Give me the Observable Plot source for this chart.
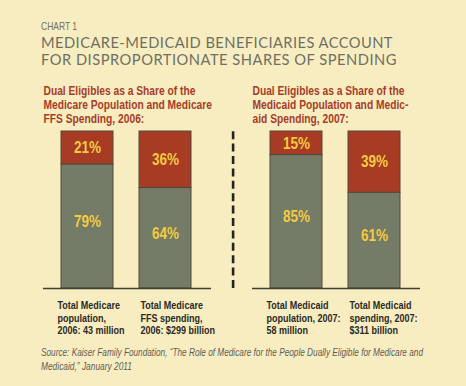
<!DOCTYPE html>
<html><head><meta charset="utf-8">
<script src="https://cdn.jsdelivr.net/npm/d3@7"></script>
<script src="https://cdn.jsdelivr.net/npm/@observablehq/plot@0.6"></script>
<style>
html,body{margin:0;padding:0;background:#f8edc1;}
#wrap{position:relative;width:466px;height:386px;overflow:hidden;background:#f8edc1;}
.narrow{font-family:"Liberation Sans",Arial,sans-serif;}
#kicker{position:absolute;left:41px;top:20px;font-size:10.5px;line-height:12px;color:#6d7064;white-space:nowrap;}
#title{position:absolute;left:41px;top:34px;font-family:Lato,"Open Sans",sans-serif;font-size:14.7px;line-height:16.5px;color:#6e7064;white-space:nowrap;}
#title span,#source span,#kicker span{display:inline-block;transform-origin:0 50%;}
#chart{position:absolute;left:0;top:78px;}
#source{position:absolute;left:41px;top:345px;font-size:11px;line-height:14px;font-style:italic;color:#5e5e56;white-space:nowrap;}
</style></head>
<body>
<div id="wrap">
  <div id="kicker" class="narrow"><span data-w="36" data-mode="scale">CHART 1</span></div>
  <div id="title"><span data-w="352">MEDICARE-MEDICAID BENEFICIARIES ACCOUNT</span><br><span data-w="356">FOR DISPROPORTIONATE SHARES OF SPENDING</span></div>
  <div id="chart"></div>
  <div id="source" class="narrow"><span data-w="382" data-mode="scale">Source: Kaiser Family Foundation, “The Role of Medicare for the People Dually Eligible for Medicare and</span><br><span data-w="91" data-mode="scale">Medicaid,” January 2011</span></div>
</div>
<script>
// ---- data ----
const panels = ["Medicare", "Medicaid"];
const panelTitles = [
  "Dual Eligibles as a Share of the\nMedicare Population and Medicare\nFFS Spending, 2006:",
  "Dual Eligibles as a Share of the\nMedicaid Population and Medic-\naid Spending, 2007:"
];
const barPanel = ["Medicare", "Medicare", "Medicaid", "Medicaid"];
const barKeys = ["population", "spending", "population", "spending"];
const barLabels = [
  "Total Medicare\npopulation,\n2006: 43 million",
  "Total Medicare\nFFS spending,\n2006: $299 billion",
  "Total Medicaid\npopulation, 2007:\n58 million",
  "Total Medicaid\nspending, 2007:\n$311 billion"
];
const dualShare = [21, 36, 15, 39];
const otherShare = [79, 64, 85, 61];
const groups = ["Other", "Dual"];

// ---- build tables ----
const rows = [];
barKeys.forEach((k, i) => {
  rows.push({panel: barPanel[i], bar: k, group: "Other", value: otherShare[i]});
  rows.push({panel: barPanel[i], bar: k, group: "Dual", value: dualShare[i]});
});
const labels = barKeys.map((k, i) => ({panel: barPanel[i], bar: k, label: barLabels[i]}));

const FONT = "'Liberation Sans',Arial,sans-serif";
const GREY = "#747b66", RED = "#a83b24", YELLOW = "#f3cc40";

const stackOpts = {fx: "panel", x: "bar", y: "value", z: "group"};

const chart = Plot.plot({
  width: 466, height: 260,
  marginLeft: 42, marginRight: 45, marginTop: 53, marginBottom: 50,
  style: {background: "transparent", overflow: "visible"},
  fx: {domain: panels, paddingInner: 0.195, paddingOuter: 0, axis: null, label: null},
  x: {domain: ["population", "spending"], paddingInner: 0.331, paddingOuter: 0.242, align: 0.47, axis: null, label: null},
  y: {domain: [0, 100], axis: null, label: null},
  color: {domain: groups, range: [GREY, RED]},
  marks: [
    Plot.barY(rows, {...stackOpts, fill: "group", stroke: "#4e4a3c", strokeWidth: 1}),
    Plot.ruleY([0], {stroke: "#3f3f38", strokeWidth: 1.5}),
    Plot.text(rows, Plot.filter(d => d.group === "Dual", Plot.stackY({...stackOpts, text: d => d.value + "%",
      fill: YELLOW, fontSize: 16.5, fontWeight: "bold", fontFamily: FONT}))),
    Plot.text(rows, Plot.filter(d => d.group === "Other", Plot.stackY({...stackOpts, text: d => d.value + "%",
      fill: YELLOW, fontSize: 16.5, fontWeight: "bold", fontFamily: FONT, dy: -5}))),
    Plot.text(panelTitles, {fx: panels, text: d => d, frameAnchor: "top-left", lineAnchor: "top",
      dy: -46, dx: 0, fill: "#a63c28", fontSize: 12.5, fontWeight: "bold", fontFamily: FONT, lineHeight: 1.1}),
    Plot.text(labels, {filter: d => d.bar === "population", fx: "panel", x: "bar", text: "label",
      frameAnchor: "bottom", lineAnchor: "top", textAnchor: "start", dy: 11.3, dx: -30,
      fill: "#2a2a26", fontSize: 11, fontWeight: "bold", fontFamily: FONT, lineHeight: 1.155}),
    Plot.text(labels, {filter: d => d.bar === "spending", fx: "panel", x: "bar", text: "label",
      frameAnchor: "bottom", lineAnchor: "top", textAnchor: "start", dy: 11.3, dx: -25,
      fill: "#2a2a26", fontSize: 11, fontWeight: "bold", fontFamily: FONT, lineHeight: 1.155}),
    Plot.ruleX(["population"], {fx: ["Medicaid"], x: d => d, y1: 0, y2: 100, dx: -63.4,
      stroke: "#24231f", strokeWidth: 2.6, strokeDasharray: "8,4.4"})
  ]
});
document.getElementById("chart").append(chart);

// condense the chart's text (the reference uses a narrow typeface)
chart.querySelectorAll("text").forEach(t => {
  const tr = t.getAttribute("transform");
  if (tr && tr.includes("translate")) {
    t.setAttribute("transform", tr + " scale(0.82,1)");
  } else {
    const x = +(t.getAttribute("x") || 0);
    t.setAttribute("transform", `translate(${x},0) scale(0.82,1) translate(${-x},0)` + (tr ? " " + tr : ""));
  }
});

// fit HTML text lines to the reference widths
document.querySelectorAll("[data-w]").forEach(el => {
  const target = +el.dataset.w;
  const w = el.getBoundingClientRect().width;
  if (el.dataset.mode === "scale") {
    el.style.transform = `scaleX(${target / w})`;
  } else {
    el.style.letterSpacing = ((target - w) / el.textContent.length) + "px";
  }
});
</script>
</body></html>
